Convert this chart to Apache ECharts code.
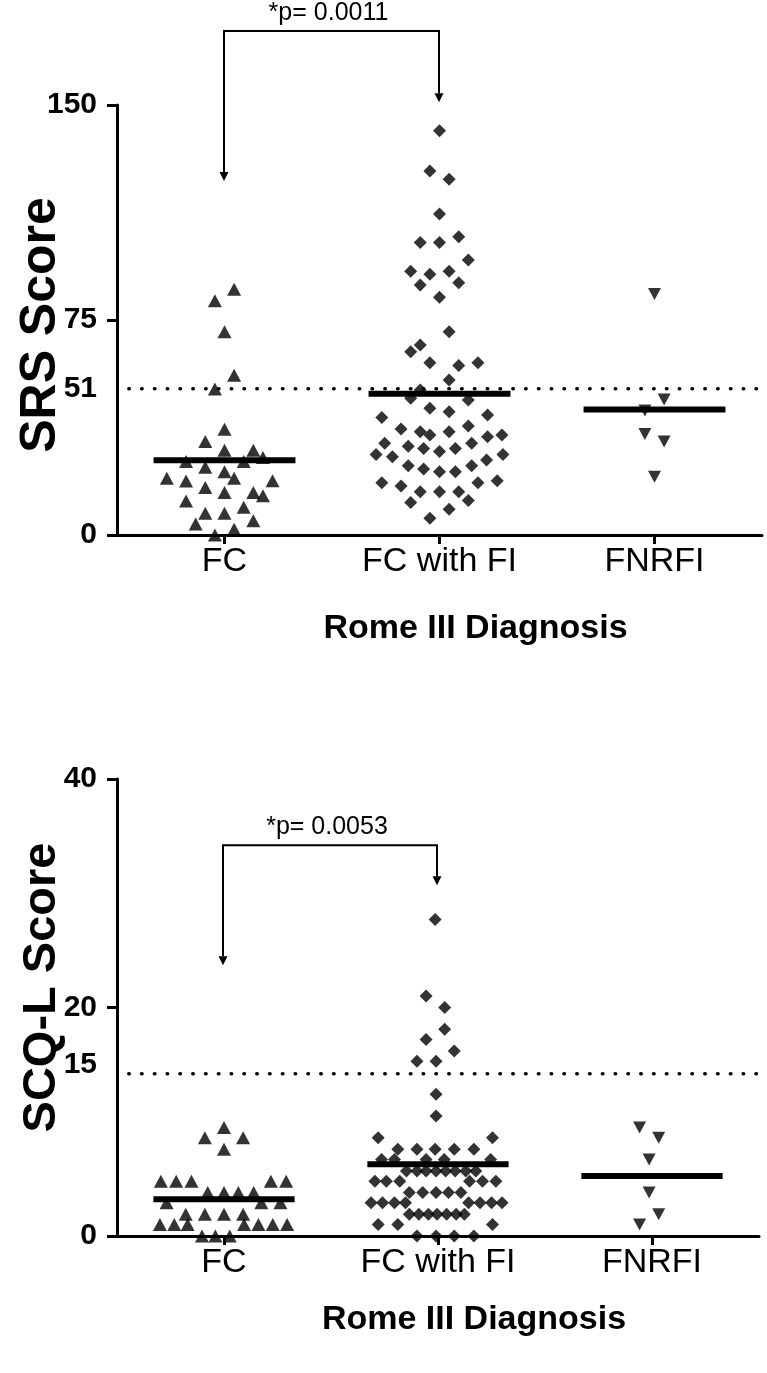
<!DOCTYPE html>
<html><head><meta charset="utf-8">
<script src="https://cdn.jsdelivr.net/npm/echarts@6/dist/echarts.min.js"></script>
<style>html,body{margin:0;padding:0;background:#fff}#c{width:767px;height:1373px}</style>
</head><body><div id="c"></div>
<script>
// ---------- data ----------
const categories = ['FC', 'FC with FI', 'FNRFI'];

// SRS score (top panel) — values and beeswarm column slot for each point
const srsFC = [85.7, 81.7, 70.9, 55.7, 50.9, 36.9, 32.6, 29.6, 29.6, 27.0, 25.6, 25.6, 23.6, 22.1, 19.8, 19.8, 18.8, 18.9, 16.6, 14.8, 14.8, 13.7, 11.9, 9.7, 7.6, 7.6, 3.8, 5.0, 2.0, 0];
const srsFCSlot = [1, -1, 0, 1, -1, 0, -2, 0, 3, 4, -4, 2, -2, 0, 1, -6, -4, 5, -2, 0, 3, 4, -4, 2, -2, 0, -3, 3, 1, -1];
const srsFCFI = [141.0, 127.0, 124.1, 112.0, 102.0, 102.0, 104.0, 95.9, 92.0, 91.0, 92.0, 87.2, 88.0, 82.9,
  70.9, 63.9, 66.3, 60.1, 59.1, 60.1, 54.1, 50.6, 47.7, 47.1, 44.2, 43.0, 41.0, 41.9, 37.0, 36.0, 34.9, 36.0, 38.0, 34.3,
  34.9, 32.0, 31.0, 30.2, 29.1, 30.2, 32.0, 28.1, 27.3, 26.2, 28.1, 24.2, 23.0, 22.1, 22.1, 24.2, 18.2, 17.1, 15.1, 15.1,
  15.1, 18.2, 18.9, 11.3, 12.0, 9.0, 5.8];
const srsFCFISlot = [0, -1, 1, 0, -2, 0, 2, 3, -3, -1, 1, -2, 2, 0,
  1, -3, -2, -1, 2, 4, 1, -2, -3, 3, -1, 1, -6, 5, -4, -2, -1, 1, 3, 5,
  6.5, -5.7, -3.25, -1.65, 0, 1.65, 3.35, -6.6, -4.9, 4.9, 6.6, -3.25, -1.65, 0, 1.65, 3.35, -6, -4, -2, 0,
  2, 4, 6, -3, 3, 1, -1];
const srsFNRFI = [84.1, 47.3, 43.4, 35.2, 32.6, 20.3];
const srsFNRFISlot = [0, 1, -1, -1, 1, 0];
const srsTicks = [0, 75, 150];
const srsLabels = [0, 51, 75, 150];
const srsCutoff = 51;

// SCQ-L score (bottom panel)
const scqFC = [9.5, 8.6, 8.6, 7.6, 4.8, 4.8, 4.8, 4.8, 4.8, 3.8, 3.8, 3.8, 3.8, 2.9, 2.9, 2.9, 1.9, 1.9, 1.9, 1.9, 1.0, 1.0, 1.0, 1.0, 1.0, 1.0, 1.0, 0, 0, 0];
const scqFCSlot = [0, -2, 2, 0, -6.6, -5, -3.4, 4.9, 6.5, -1.7, 0, 1.5, 3.1, -6, 3.9, 5.9, -4, -2, 0, 2, -6.7, -5.2, -3.8, 2.1, 3.6, 5.1, 6.6, -2.3, -0.9, 0.6];
const scqFCFI = [27.7, 21.0, 20.0, 18.1, 17.2, 16.2, 15.3, 15.3, 12.4, 10.5,
  8.6, 8.6, 7.6, 7.6, 7.6, 7.6, 7.6, 6.7, 6.7, 6.7, 6.7, 6.7,
  5.7, 5.7, 5.7, 5.7, 5.7, 5.7, 5.7, 5.7, 4.8, 4.8, 4.8, 4.8, 4.8, 4.8, 3.8, 3.8, 3.8, 3.8, 3.8,
  2.9, 2.9, 2.9, 2.9, 2.9, 2.9, 2.9, 2.9, 1.9, 1.9, 1.9, 1.9, 1.9, 1.9, 1.9, 1.0, 1.0, 1.0, 0, 0, 0, 0];
const scqFCFISlot = [-0.3, -1.25, 0.7, 0.7, -1.25, 1.7, -2.2, -0.2, -0.2, -0.2,
  -6.25, 5.7, -4.2, -2.2, -0.3, 1.7, 3.75, -5.9, -4.55, -1.25, 0.65, 5.5,
  -3.3, -2.2, -1.25, -0.2, 0.8, 1.8, 2.9, 3.95, -6.6, -5.4, -4, 3.3, 4.65, 6.05, -3, -1.6, -0.2, 1.1, 2.4,
  -7, -5.8, -4.55, -3.4, 3.2, 4.4, 5.6, 6.7, -3, -2, -1, -0.1, 0.9, 1.9, 2.75, -6.25, -4.2, 5.7, -2.2, -0.2, 1.7, 3.75];
const scqFNRFI = [9.5, 8.6, 6.7, 3.8, 1.9, 1.0];
const scqFNRFISlot = [-1.3, 0.7, -0.3, -0.3, 0.7, -1.3];
const scqTicks = [0, 20, 40];
const scqLabels = [0, 15, 20, 40];
const scqCutoff = 14.2;

const srsTest = ['*p= 0.0011', 1, 2];
const scqTest = ['*p= 0.0053', 1, 2];

// ---------- build ----------
const SLOT = 0.0447;      // category units per beeswarm column
const HALF = 0.33;        // half-width of mean bar
const mean = a => a.reduce((s, v) => s + v, 0) / a.length;
const pts = (vals, slots, c) => vals.map((v, i) => [c + slots[i] * SLOT, v]);

const FONT = '"Liberation Sans", Arial, sans-serif';

function axesFor(g, ymax, ticks, labels, yName, lay) {
  const x = {
    type: 'value', gridIndex: g, min: 0.5, max: 3.5,
    axisLine: { show: true, lineStyle: { color: '#000', width: 3 } },
    axisTick: { show: true, customValues: [1, 2, 3], length: 9, lineStyle: { color: '#000', width: 3 } },
    axisLabel: { customValues: [1, 2, 3], formatter: v => categories[Math.round(v) - 1], color: '#000',
      fontFamily: FONT, fontSize: 34, margin: 10 },
    splitLine: { show: false },
    name: 'Rome III Diagnosis', nameLocation: 'middle', nameGap: lay.xGap, nameMoveOverlap: false,
    nameTextStyle: { fontFamily: FONT, fontWeight: 'bold', fontSize: 34, color: '#000', padding: [0, 0, 0, 72] }
  };
  const s = lay.yShift;
  const y = {
    type: 'value', gridIndex: g, min: 0, max: ymax,
    axisLine: { show: true, lineStyle: { color: '#000', width: 3 } },
    axisTick: { show: true, customValues: ticks, length: 10, lineStyle: { color: '#000', width: 3 } },
    axisLabel: { customValues: labels, color: '#000', fontFamily: FONT, fontWeight: 'bold', fontSize: 30, margin: 20 },
    splitLine: { show: false },
    name: yName, nameLocation: 'middle', nameGap: lay.yGap, nameRotate: 90, nameMoveOverlap: false,
    nameTextStyle: { fontFamily: FONT, fontWeight: 'bold', fontSize: lay.ySize, color: '#000',
      padding: [0, Math.max(0, -s), 0, Math.max(0, s)] }
  };
  return [x, y];
}

function seriesFor(g, groups, cutoff) {
  const symbols = [
    { symbol: 'triangle', symbolSize: [14, 13], symbolRotate: 0 },
    { symbol: 'diamond', symbolSize: [13, 13], symbolRotate: 0 },
    { symbol: 'triangle', symbolSize: [13, 12], symbolRotate: 180 }
  ];
  const out = [];
  out.push({
    type: 'line', xAxisIndex: g, yAxisIndex: g, data: [[0.555, cutoff], [3.49, cutoff]],
    symbol: 'none', silent: true, z: 1,
    lineStyle: { color: '#000', width: 3.5, type: [0.5, 12.3], cap: 'round' }
  });
  groups.forEach((gr, i) => {
    out.push(Object.assign({
      type: 'scatter', xAxisIndex: g, yAxisIndex: g, data: pts(gr[0], gr[1], i + 1),
      itemStyle: { color: '#000' }, z: 3
    }, symbols[i]));
  });
  groups.forEach((gr, i) => {
    const m = mean(gr[0]);
    out.push({
      type: 'line', xAxisIndex: g, yAxisIndex: g, data: [[i + 1 - HALF, m], [i + 1 + HALF, m]],
      symbol: 'none', silent: true, z: 5, lineStyle: { color: '#000', width: 6, cap: 'butt' }
    });
  });
  return out;
}

const [x0, y0] = axesFor(0, 150, srsTicks, srsLabels, 'SRS Score', { xGap: 77, yGap: 51, ySize: 50, yShift: -10 });
const [x1, y1] = axesFor(1, 40, scqTicks, scqLabels, 'SCQ-L Score', { xGap: 67, yGap: 51, ySize: 47, yShift: 40 });

const chart = echarts.init(document.getElementById('c'), null, { renderer: 'canvas' });
chart.setOption({
  animation: false,
  backgroundColor: '#fff',
  grid: [
    { left: 117, top: 105, width: 645, height: 430, outerBoundsMode: 'none', containLabel: false },
    { left: 117, top: 779, width: 642, height: 457, outerBoundsMode: 'none', containLabel: false }
  ],
  xAxis: [x0, x1],
  yAxis: [y0, y1],
  series: [
    ...seriesFor(0, [[srsFC, srsFCSlot], [srsFCFI, srsFCFISlot], [srsFNRFI, srsFNRFISlot]], srsCutoff),
    ...seriesFor(1, [[scqFC, scqFCSlot], [scqFCFI, scqFCFISlot], [scqFNRFI, scqFNRFISlot]], scqCutoff)
  ]
});

// significance brackets: [grid, test, bracket value, left tip value, right tip value]
function bracket(g, test, topV, leftV, rightV) {
  const [label, a, b] = test;
  const pL = chart.convertToPixel({ gridIndex: g }, [a, leftV]);
  const pR = chart.convertToPixel({ gridIndex: g }, [b, rightV]);
  const yTop = chart.convertToPixel({ gridIndex: g }, [a, topV])[1];
  const xL = Math.round(pL[0]) - 1, xR = Math.round(pR[0]) - 1;
  const head = 9, hw = 4.5;
  return [
    { type: 'polyline', shape: { points: [[xL, pL[1] - head], [xL, yTop], [xR, yTop], [xR, pR[1] - head]] },
      style: { stroke: '#000', lineWidth: 2, fill: null }, z: 10 },
    { type: 'polygon', shape: { points: [[xL - hw, pL[1] - head], [xL + hw, pL[1] - head], [xL, pL[1]]] }, style: { fill: '#000' }, z: 10 },
    { type: 'polygon', shape: { points: [[xR - hw, pR[1] - head], [xR + hw, pR[1] - head], [xR, pR[1]]] }, style: { fill: '#000' }, z: 10 },
    { type: 'text', x: (xL + xR) / 2 - 3, y: yTop - 18,
      style: { text: label, fill: '#000', font: '25px ' + FONT, textAlign: 'center', textVerticalAlign: 'middle' }, z: 10 }
  ];
}
chart.setOption({
  graphic: [
    ...bracket(0, srsTest, 175.8, 123.5, 151),
    ...bracket(1, scqTest, 34.2, 23.7, 30.7)
  ]
});
</script>
</body></html>
